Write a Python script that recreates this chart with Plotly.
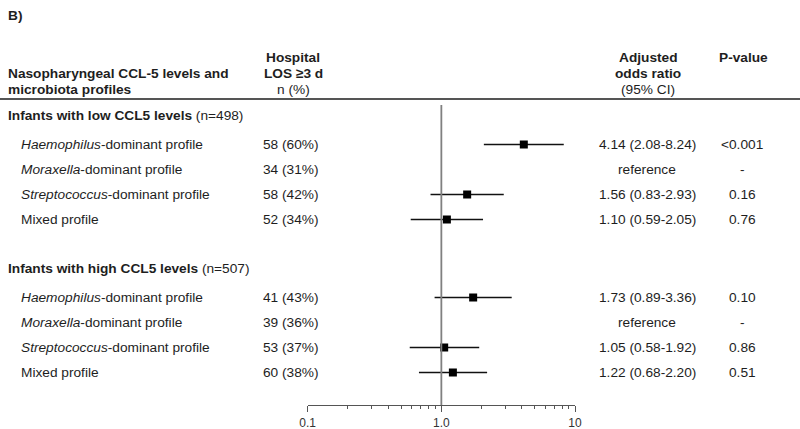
import plotly.graph_objects as go

# ---------------- data ----------------
group_titles = ["Infants with low CCL5 levels", "Infants with high CCL5 levels"]
group_n = ["(n=498)", "(n=507)"]
profile_labels = [
    "<i>Haemophilus</i>-dominant profile",
    "<i>Moraxella</i>-dominant profile",
    "<i>Streptococcus</i>-dominant profile",
    "Mixed profile",
]
los_count_low = [58, 34, 58, 52]
los_pct_low = [60, 31, 42, 34]
los_count_high = [41, 39, 53, 60]
los_pct_high = [43, 36, 37, 38]

or_low = [4.14, None, 1.56, 1.10]
ci_lo_low = [2.08, None, 0.83, 0.59]
ci_hi_low = [8.24, None, 2.93, 2.05]
or_high = [1.73, None, 1.05, 1.22]
ci_lo_high = [0.89, None, 0.58, 0.68]
ci_hi_high = [3.36, None, 1.92, 2.20]

p_low = ["<0.001", "-", "0.16", "0.76"]
p_high = ["0.10", "-", "0.86", "0.51"]

tick_vals = [0.1, 1.0, 10]
tick_text = ["0.1", "1.0", "10"]
minor_vals = [0.2, 0.3, 0.4, 0.5, 0.6, 0.7, 0.8, 0.9, 2, 3, 4, 5, 6, 7, 8, 9]

# ---------------- layout constants (pixels) ----------------
W, H = 800, 429
FONT = "Liberation Sans, Arial, sans-serif"
FS = 13.7
TXT = "#1e1e1e"
header_y = [115, 268]
first_offset = 29.5
row_step = 25
axis_y = 405
xdom = [307.7 / W, 575.0 / W]
col_label_x = 21 / W
col_head_x = 8 / W
col_n_x = 291 / W
col_or_x = 647 / W
col_p_x = 742 / W

fig = go.Figure()
annotations = []


def ann(text, x, y, anchor="left", size=FS, color=TXT):
    annotations.append(dict(text=text, x=x, y=y, xref="paper", yref="y",
                            xanchor=anchor, yanchor="middle", showarrow=False,
                            borderpad=0, borderwidth=0,
                            font=dict(family=FONT, size=size, color=color)))


groups = [
    (los_count_low, los_pct_low, or_low, ci_lo_low, ci_hi_low, p_low),
    (los_count_high, los_pct_high, or_high, ci_lo_high, ci_hi_high, p_high),
]

for g, (cnt, pct, orv, lo, hi, pv) in enumerate(groups):
    hy = header_y[g]
    ann(f"<b>{group_titles[g]}</b> {group_n[g]}", col_head_x, hy)
    ys = [hy + first_offset + i * row_step for i in range(len(profile_labels))]
    for i, lab in enumerate(profile_labels):
        ann(lab, col_label_x, ys[i])
        ann(f"{cnt[i]} ({pct[i]}%)", col_n_x, ys[i], anchor="center")
        if orv[i] is None:
            ann("reference", col_or_x, ys[i], anchor="center")
        else:
            ann(f"{orv[i]:.2f} ({lo[i]:.2f}-{hi[i]:.2f})", col_or_x, ys[i], anchor="center")
        ann(pv[i], col_p_x, ys[i], anchor="center")
    xs = [v for v in orv if v is not None]
    yv = [ys[i] for i, v in enumerate(orv) if v is not None]
    plus = [hi[i] - orv[i] for i, v in enumerate(orv) if v is not None]
    minus = [orv[i] - lo[i] for i, v in enumerate(orv) if v is not None]
    fig.add_trace(go.Scatter(
        x=xs, y=yv, mode="markers",
        marker=dict(symbol="square", size=8, color="#000000"),
        error_x=dict(type="data", symmetric=False, array=plus, arrayminus=minus,
                     width=0, thickness=1.3, color="#111111"),
        hoverinfo="skip", showlegend=False))

# headers
ann("<b>B)</b>", col_head_x, 15)
ann("<b>Nasopharyngeal CCL-5 levels and</b>", col_head_x, 73)
ann("<b>microbiota profiles</b>", col_head_x, 89)
ann("<b>Hospital</b>", 293 / W, 57.5, anchor="center")
ann("<b>LOS ≥3 d</b>", 293 / W, 73, anchor="center")
ann("n (%)", 293 / W, 89, anchor="center")
ann("<b>Adjusted</b>", 648 / W, 57.5, anchor="center")
ann("<b>odds ratio</b>", 648 / W, 73, anchor="center")
ann("(95% CI)", 648 / W, 89.5, anchor="center")
ann("<b>P-value</b>", 743 / W, 57, anchor="center")

shapes = [
    dict(type="line", xref="paper", yref="y", x0=0, x1=1, y0=99, y1=99,
         line=dict(color="#555555", width=2)),
    dict(type="line", xref="x", yref="y", x0=1, x1=1, y0=105, y1=axis_y,
         line=dict(color="#808080", width=1.8)),
]

fig.update_layout(
    template="none",
    width=W, height=H,
    margin=dict(l=0, r=0, t=0, b=0, pad=0, autoexpand=False),
    paper_bgcolor="white", plot_bgcolor="white",
    annotations=annotations, shapes=shapes,
    xaxis=dict(type="log", range=[-1, 1], domain=xdom,
               anchor="free", position=(H - axis_y) / H, automargin=False,
               showgrid=False, zeroline=False,
               showline=True, linecolor="#555555", linewidth=1.3,
               tickmode="array", tickvals=tick_vals, ticktext=tick_text,
               ticks="outside", ticklen=6, tickwidth=1.3, tickcolor="#555555",
               tickfont=dict(family=FONT, size=12, color="#333333"),
               minor=dict(tickmode="array", tickvals=minor_vals, ticks="outside",
                          ticklen=3, tickwidth=1, tickcolor="#555555", showgrid=False)),
    yaxis=dict(range=[H, 0], domain=[0, 1], visible=False, fixedrange=True,
               automargin=False),
)

post = ("document.body.style.margin='0';document.body.style.padding='0';"
        "document.body.style.overflow='hidden';")
fig.write_html("out.html", post_script=post,
               config={"responsive": False, "displayModeBar": False})
